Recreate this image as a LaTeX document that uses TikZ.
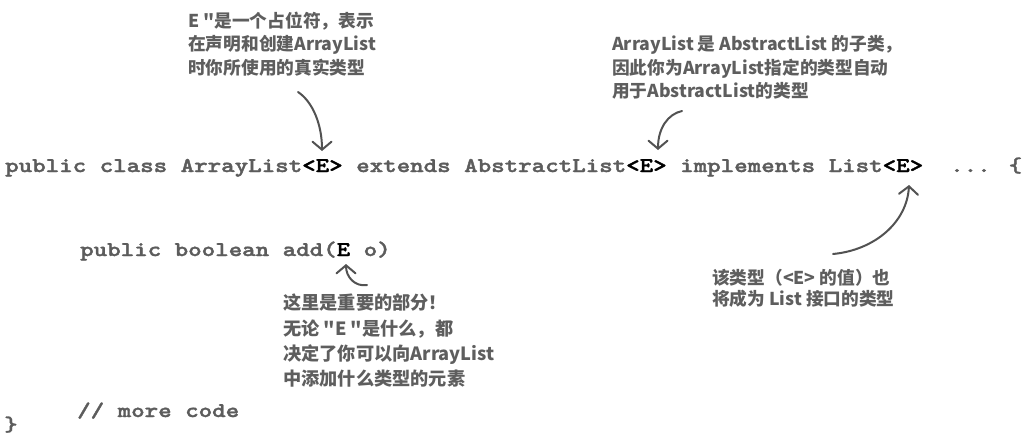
\documentclass[tikz,border=0pt]{standalone}
\usepackage{fontspec}
\usetikzlibrary{arrows.meta}
\newfontfamily\codefont{lmmonolt10-bold.otf}[FakeBold=1.6]
\newfontfamily\cjk{Noto Sans CJK SC}
\definecolor{codegray}{HTML}{5C5C5C}
\definecolor{notegray}{HTML}{5E5E5E}
\definecolor{arrgray}{HTML}{525252}
\newcommand{\codeline}[1]{\scalebox{1.2245}[1]{\codefont\fontsize{21}{21}\selectfont #1}}
\newcommand{\bk}[1]{\textcolor{black}{#1}}
\begin{document}
\begin{tikzpicture}[x=1pt,y=1pt,
  code/.style={anchor=base west, inner sep=0pt, text=codegray},
  note/.style={anchor=base west, inner sep=0pt, text=notegray, font=\cjk\bfseries\fontsize{17.7}{17.7}\selectfont},
  notebig/.style={note, font=\cjk\bfseries\fontsize{18.2}{18.2}\selectfont},
  arr/.style={draw=arrgray, line width=2pt, line cap=round, line join=round,
    -{Straight Barb[length=8pt,width=19pt,line width=2pt,line cap=round]}}]
\useasboundingbox (0,0) rectangle (1024,-442);
% code
\node[code] (l1) at (5,-172) {\codeline{public class ArrayList\bk{<E>} extends AbstractList\bk{<E>} implements List\bk{<E>}\ \ ... \{}};
\node[code] (l2) at (80,-256) {\codeline{public boolean add(\bk{E} o)}};
\node[code] (l3) at (77,-417) {\codeline{// more code}};
\node[code] (l4) at (4,-431) {\codeline{\}}};
% note 1
\node[note] (n1a) at (188,-27) {E "是一个占位符，表示};
\node[note] (n1b) at (188,-50.5) {在声明和创建ArrayList};
\node[note] (n1c) at (188,-74) {时你所使用的真实类型};
% note 2
\node[note] (n2a) at (612,-50) {ArrayList 是 AbstractList 的子类，};
\node[note] (n2b) at (612,-74) {因此你为ArrayList指定的类型自动};
\node[note] (n2c) at (612,-97.5) {用于AbstractList的类型};
% note 3
\node[notebig] (n3a) at (283,-309) {这里是重要的部分！};
\node[notebig] (n3b) at (283,-335) {无论 "E "是什么，都};
\node[notebig] (n3c) at (283,-360) {决定了你可以向ArrayList};
\node[notebig] (n3d) at (283,-385) {中添加什么类型的元素};
% note 4
\node[note] (n4a) at (712,-284) {该类型（<E> 的值）也};
\node[note] (n4b) at (712,-305.5) {将成为 List 接口的类型};
% arrows
\coordinate (a1s) at (298,-92);
\coordinate (a1e) at (322,-151);
\coordinate (a2s) at (682,-111);
\coordinate (a2e) at (658,-150);
\coordinate (a3s) at (833,-254);
\coordinate (a3e) at (909,-185);
\coordinate (a4s) at (367,-285);
\coordinate (a4e) at (346,-264);
\draw[arr] (a1s) .. controls (313,-102) and (322,-125) .. (a1e);
\draw[arr] (a2s) .. controls (668,-114) and (658,-128) .. (a2e);
\draw[arr] (a3s) .. controls (875,-250) and (907,-222) .. (a3e);
\draw[arr] (a4s) .. controls (355,-287) and (346,-277) .. (a4e);
\end{tikzpicture}
\end{document}
